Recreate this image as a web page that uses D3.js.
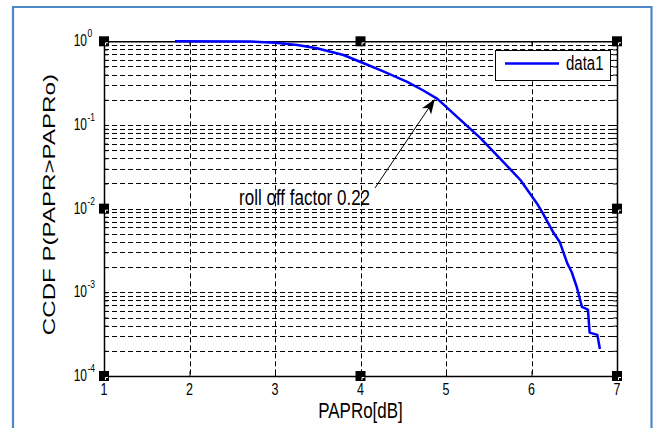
<!DOCTYPE html>
<html><head><meta charset="utf-8">
<script src="https://cdn.jsdelivr.net/npm/d3@7"></script>
<style>
html,body{margin:0;padding:0;background:#fff;}
svg{display:block;}
text{font-family:"Liberation Sans",Arial,sans-serif;fill:#000;}
</style></head>
<body>
<div id="chart"></div>
<script>
// ---- data ----
const papr = [1.83, 2.71, 3.0, 3.26, 3.49, 3.8, 4.03, 4.26, 4.54, 4.73, 4.9, 5.13, 5.4, 5.63, 5.87, 6.06, 6.13, 6.25, 6.33, 6.42, 6.47, 6.53, 6.59, 6.66, 6.68, 6.77, 6.8];
const ccdf = [1, 0.995, 0.962, 0.904, 0.825, 0.686, 0.55, 0.44, 0.33, 0.26, 0.205, 0.125, 0.070, 0.040, 0.022, 0.0117, 0.0089, 0.0053, 0.0040, 0.0022, 0.00175, 0.00115, 0.00067, 0.00062, 0.00033, 0.00031, 0.00021];
const xTicks = [1, 2, 3, 4, 5, 6, 7];
const yExponents = [0, -1, -2, -3, -4];
const seriesName = "data1";
const xLabel = "PAPRo[dB]";
const yLabel = "CCDF P(PAPR>PAPRo)";
const annText = "roll off factor 0.22";
const annTip = [4.87, 0.205];
const annTail = [4.17, 0.0177];
const annTextPos = [2.58, 0.0111];

// ---- layout ----
const W = 658, H = 428;
const L = 104, R = 617, T = 41.3, B = 376;
const SY = 1.35; // vertical stretch of the text in the reference

const svg = d3.select("#chart").append("svg").attr("width", W).attr("height", H);

const x = d3.scaleLinear().domain([1, 7]).range([L, R]);
const y = d3.scaleLog().domain([1e-4, 1]).range([B, T]);

// outer frame
svg.append("path")
  .attr("d", `M13,${H+5} V7 H651.5 V${H+5}`)
  .attr("fill", "none").attr("stroke", "#5087c8").attr("stroke-width", 2.2);

const g = svg.append("g");

// grid: horizontal (major + minor), vertical (major)
const yGridVals = [];
for (let e = -4; e < 0; e++) for (let k = 1; k <= 9; k++) yGridVals.push(k * Math.pow(10, e));
g.append("g").selectAll("line").data(yGridVals.filter(v => v > 1e-4)).join("line")
  .attr("x1", L).attr("x2", R)
  .attr("y1", d => Math.round(y(d)) + 0.5).attr("y2", d => Math.round(y(d)) + 0.5)
  .attr("stroke", "#000").attr("stroke-width", 1).attr("stroke-dasharray", "5,3");
g.append("g").selectAll("line").data(xTicks.slice(1, -1)).join("line")
  .attr("x1", d => Math.round(x(d)) + 0.5).attr("x2", d => Math.round(x(d)) + 0.5)
  .attr("y1", T).attr("y2", B)
  .attr("stroke", "#000").attr("stroke-width", 1).attr("stroke-dasharray", "5,3");

// axes with inner ticks
const xAxisB = d3.axisBottom(x).tickValues(xTicks).tickSize(-5).tickFormat("");
const xAxisT = d3.axisTop(x).tickValues(xTicks).tickSize(-5).tickFormat("");
const yAxisL = d3.axisLeft(y).tickValues(yGridVals).tickSize(-4).tickFormat("");
const yAxisR = d3.axisRight(y).tickValues(yGridVals).tickSize(-4).tickFormat("");
[[xAxisB, `translate(0,${B})`], [xAxisT, `translate(0,${T})`], [yAxisL, `translate(${L},0)`], [yAxisR, `translate(${R},0)`]]
  .forEach(([ax, tr]) => {
    const a = g.append("g").attr("transform", tr).call(ax);
    a.select(".domain").attr("stroke", "#000").attr("stroke-width", 1.5);
    a.selectAll(".tick line").attr("stroke", "#000");
  });

// tick labels
xTicks.forEach(v => {
  svg.append("text").attr("transform", `translate(${x(v)},${B + 19}) scale(1,${SY})`)
    .attr("text-anchor", "middle").attr("font-size", 12.5).text(v);
});
yExponents.forEach(e => {
  const yy = y(Math.pow(10, e));
  svg.append("text").attr("transform", `translate(87,${yy + 5}) scale(1,${SY})`)
    .attr("text-anchor", "end").attr("font-size", 12).text("10");
  svg.append("text").attr("transform", `translate(87.5,${yy - 4}) scale(1,${SY})`)
    .attr("text-anchor", "start").attr("font-size", 8.5).text(e);
});

// axis labels
svg.append("text").attr("transform", `translate(${(L + R) / 2},${418}) scale(1,${SY})`)
  .attr("text-anchor", "middle").attr("font-size", 17).text(xLabel);
svg.append("text").attr("transform", `translate(55,${(T + B) / 2 - 4}) scale(1,1.42) rotate(-90)`)
  .attr("text-anchor", "middle").attr("font-size", 17).text(yLabel);

// data line
const line = d3.line().x((d, i) => x(papr[i])).y(d => y(d));
g.append("path").datum(ccdf).attr("d", line)
  .attr("fill", "none").attr("stroke", "#0000ff").attr("stroke-width", 2.5).attr("stroke-linejoin", "round");

// annotation arrow
const tip = [x(annTip[0]), y(annTip[1])];
const tail = [x(annTail[0]), y(annTail[1])];
const ang = Math.atan2(tip[1] - tail[1], tip[0] - tail[0]);
const hl = 15, hw = 5.5;
const bx = tip[0] - hl * Math.cos(ang), by = tip[1] - hl * Math.sin(ang);
const nx = -Math.sin(ang), ny = Math.cos(ang);
const inset = 4;
svg.append("line").attr("x1", tail[0]).attr("y1", tail[1]).attr("x2", bx + inset * Math.cos(ang)).attr("y2", by + inset * Math.sin(ang))
  .attr("stroke", "#000").attr("stroke-width", 1);
svg.append("path")
  .attr("d", `M${tip[0]},${tip[1]} L${bx + hw * nx},${by + hw * ny} L${bx + inset * Math.cos(ang)},${by + inset * Math.sin(ang)} L${bx - hw * nx},${by - hw * ny} Z`)
  .attr("fill", "#000");
svg.append("text").attr("transform", `translate(${x(annTextPos[0])},${y(annTextPos[1])}) scale(1,${SY})`)
  .attr("font-size", 17).text(annText);

// legend
const lg = svg.append("g");
lg.append("rect").attr("x", 495.5).attr("y", 50.5).attr("width", 115).attr("height", 30)
  .attr("fill", "#fff").attr("stroke", "#000").attr("stroke-width", 1);
lg.append("line").attr("x1", 505).attr("x2", 559).attr("y1", 63.5).attr("y2", 63.5)
  .attr("stroke", "#0000ff").attr("stroke-width", 2.5);
lg.append("text").attr("transform", `translate(566,70) scale(1,${SY})`).attr("font-size", 15).text(seriesName);

// selection handles
const hx = [L, (L + R) / 2, R], hy = [T, (T + B) / 2, B];
const handles = [];
hx.forEach(a => hy.forEach(b => { if (!(a === hx[1] && b === hy[1])) handles.push([a, b]); }));
const hg = svg.append("g");
hg.selectAll("rect").data(handles).join("rect")
  .attr("x", d => d[0] - 5).attr("y", d => d[1] - 5).attr("width", 10).attr("height", 10).attr("fill", "#000");
hg.selectAll("path").data(handles).join("path")
  .attr("d", d => `M${d[0] + 1.5},${d[1] + 4} V${d[1] + 1.5} H${d[0] + 4}`)
  .attr("fill", "none").attr("stroke", "#fff").attr("stroke-width", 1);
</script>
</body></html>
